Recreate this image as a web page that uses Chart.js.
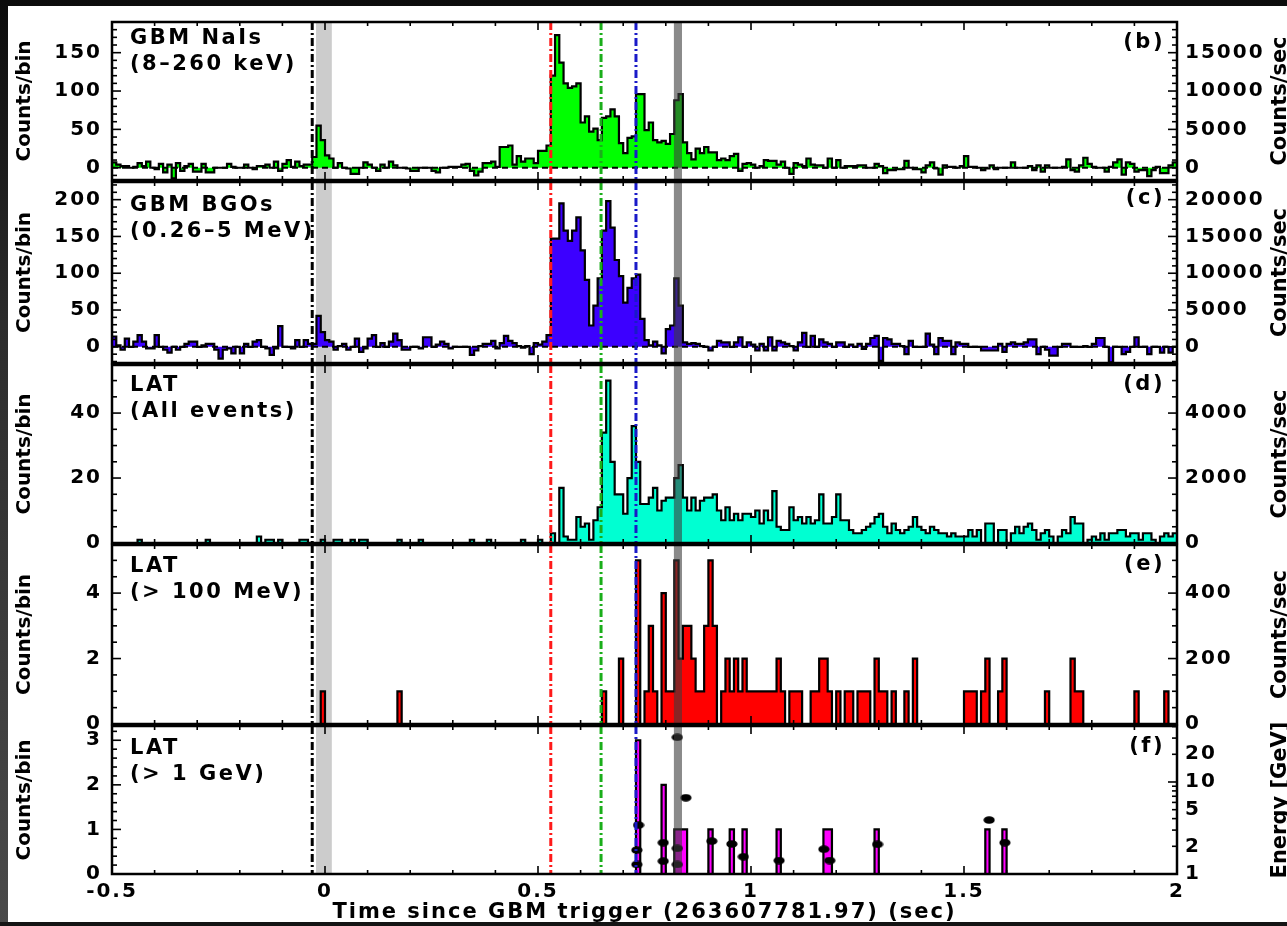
<!DOCTYPE html>
<html>
<head>
<meta charset="utf-8">
<script src="https://cdn.jsdelivr.net/npm/chart.js@4.4.1/dist/chart.umd.min.js"></script>
<style>
  html, body { margin: 0; padding: 0; }
  body {
    width: 1287px; height: 926px; position: relative; overflow: hidden;
    background: linear-gradient(#0c0c0c, #2c2c2c 35%, #4a4a4a);
  }
  #sheet { position: absolute; left: 8px; top: 6px; width: 1279px; height: 916px; background: #fff; }
  #foot { position: absolute; left: 0; top: 922px; width: 1287px; height: 4px; background: #141414; }
  canvas { position: absolute; left: 0; top: 0; }
</style>
</head>
<body>
<div id="sheet"></div>
<div id="foot"></div>
<canvas id="pb" width="1287" height="926"></canvas>
<canvas id="pc" width="1287" height="926"></canvas>
<canvas id="pd" width="1287" height="926"></canvas>
<canvas id="pe" width="1287" height="926"></canvas>
<canvas id="pf" width="1287" height="926"></canvas>
<script>
// 0.01 s bins starting at -0.5 s after the GBM trigger
const T_START = -0.5;
const BIN = 0.01;

// GBM NaI 8-260 keV, counts per bin (background subtracted)
const naiCounts = [
  7, 4, 2, 2, 0, 1, 6, 2, 8, 0,
  -2, 5, -6, 4, -14, 6, -4, 2, 5, -5,
  -5, 5, -6, -6, 0, 0, 0, 5, 1, 0,
  0, 4, 0, -2, 2, 2, 4, 0, 8, -4,
  5, 10, 1, 8, 2, 4, 4, 14, 55, 36,
  16, 12, 0, 6, 0, -1, -8, -8, 0, 7,
  4, 0, -4, 4, 0, 8, 3, 0, 0, -1,
  -4, -4, 0, 0, 0, -4, -6, 0, 0, 1,
  1, 1, 4, 5, -4, -10, -5, 6, 6, 8,
  1, 27, 27, 29, 4, 15, 8, 12, 12, 6,
  22, 22, 29, 120, 173, 137, 110, 104, 106, 110,
  59, 67, 47, 51, 36, 65, 67, 76, 67, 32,
  19, 39, 41, 96, 96, 49, 59, 36, 33, 35,
  31, 44, 88, 96, 33, 19, 11, 25, 19, 27,
  20, 20, 10, 12, 10, 15, 18, -4, 5, 6,
  4, 0, 2, 10, 9, 9, 4, 8, 0, -8,
  6, 4, 2, 12, 4, 3, 3, 0, 12, 0,
  10, 0, 2, 2, 2, 3, 3, 0, 0, 5,
  2, -7, -3, -3, -2, -2, 9, 0, -2, -2,
  -6, 3, 7, -1, -9, 3, 1, 1, 0, 2,
  15, 1, 1, 0, -3, -1, 3, -2, 0, 0,
  0, 7, 0, 0, 0, 2, -3, 3, -5, 3,
  0, 0, 0, 1, 11, -3, -5, 3, 13, 5,
  1, 0, 0, -5, 1, 7, 11, -9, 7, 5,
  -5, -3, -3, -11, -3, 1, -7, -7, 3, 7
];

// GBM BGO 0.26-5 MeV, counts per bin (background subtracted)
const bgoCounts = [
  14, 2, -4, 11, 0, 7, 16, 7, -2, -2,
  16, 0, -4, -8, 0, -4, 0, 4, 7, 7,
  0, 2, 4, 4, -4, -16, -4, -2, -9, 0,
  -9, 4, 0, 7, 9, 0, -2, -11, -2, 28,
  0, 0, -2, 9, 0, 9, 4, 4, 42, 20,
  9, 7, -4, 1, 4, -4, 0, 11, -7, -2,
  11, 16, 0, 5, 0, 7, 18, 9, -4, -4,
  0, 0, -2, 13, 13, 0, 3, 7, 4, -2,
  0, 0, 0, 0, -11, -5, 1, 4, 4, 8,
  -2, 5, 15, 8, 5, 1, -1, 1, -10, 5,
  3, 7, 16, 147, 147, 195, 158, 144, 158, 176,
  131, 91, 29, 56, 93, 158, 198, 162, 118, 96,
  60, 80, 93, 98, 38, 9, 2, 7, 2, -9,
  24, 29, 93, 56, 6, 4, 5, 4, 1, 0,
  -5, 0, 8, 6, 6, 0, 6, 13, 0, 6,
  3, -5, 4, -5, 13, -5, 8, 6, 4, 1,
  -5, 6, 19, 0, 15, 0, 10, 6, 4, 0,
  6, 6, 0, 3, 0, 4, -3, 4, 12, 15,
  -19, 12, 10, 4, 4, 1, -10, 8, 0, 0,
  0, 18, 3, -10, 12, 8, 8, -10, 6, 4,
  4, 0, 0, 0, -5, -5, -5, -5, 4, -7,
  4, 6, 4, 4, 6, 10, 10, -10, 0, -4,
  -12, -12, 0, 4, 4, 0, 0, 0, 1, 0,
  4, 12, 12, 0, -21, 0, 0, -10, -7, 0,
  13, 0, 0, -10, 0, 0, -8, 0, -8, 0
];

// LAT, all events
const latCounts = [
  0, 0, 0, 0, 0, 0, 1, 0, 0, 0,
  0, 0, 0, 0, 0, 0, 0, 0, 0, 0,
  0, 0, 1, 0, 0, 0, 0, 0, 0, 0,
  0, 0, 0, 0, 2, 0, 1, 1, 0, 1,
  0, 0, 0, 0, 1, 1, 0, 0, 0, 1,
  0, 0, 1, 1, 0, 0, 1, 0, 1, 1,
  0, 0, 0, 0, 0, 0, 0, 1, 0, 0,
  0, 0, 1, 0, 0, 0, 0, 0, 0, 0,
  0, 0, 0, 0, 1, 0, 0, 0, 1, 0,
  0, 0, 0, 0, 0, 0, 1, 0, 0, 0,
  1, 0, 0, 3, 0, 17, 2, 1, 1, 8,
  5, 6, 1, 7, 11, 34, 50, 25, 15, 15,
  9, 20, 36, 25, 12, 12, 14, 17, 10, 13,
  14, 14, 20, 24, 14, 10, 14, 10, 13, 14,
  14, 15, 10, 7, 11, 7, 9, 7, 9, 9,
  8, 10, 6, 10, 7, 16, 5, 4, 4, 11,
  7, 8, 6, 8, 6, 7, 15, 6, 6, 8,
  15, 7, 7, 4, 3, 3, 4, 5, 6, 8,
  9, 5, 3, 6, 4, 3, 4, 5, 8, 5,
  4, 3, 5, 4, 3, 3, 2, 3, 2, 2,
  2, 4, 2, 4, 0, 6, 6, 0, 4, 4,
  0, 3, 5, 3, 5, 6, 4, 1, 3, 4,
  2, 0, 2, 4, 3, 8, 6, 6, 0, 1,
  2, 1, 3, 1, 3, 3, 4, 4, 2, 3,
  3, 1, 3, 3, 1, 0, 2, 3, 2, 3
];

// LAT > 100 MeV: start time of each non-empty bin and its count
const lat100Times = [
  -0.01, 0.17, 0.65, 0.69, 0.73, 0.75, 0.76, 0.77, 0.79, 0.80,
  0.81, 0.82, 0.83, 0.84, 0.85, 0.86, 0.87, 0.88, 0.89, 0.90,
  0.91, 0.93, 0.94, 0.95, 0.96, 0.97, 0.98, 0.99, 1.00, 1.01,
  1.02, 1.03, 1.04, 1.05, 1.06, 1.07, 1.09, 1.10, 1.11, 1.14,
  1.15, 1.16, 1.17, 1.18, 1.20, 1.22, 1.23, 1.25, 1.26, 1.27,
  1.29, 1.30, 1.31, 1.33, 1.36, 1.38, 1.50, 1.51, 1.52, 1.54,
  1.55, 1.58, 1.59, 1.69, 1.75, 1.76, 1.77, 1.90, 1.97
];
const lat100Counts = [
  1, 1, 1, 2, 5, 1, 3, 1, 4, 1,
  1, 5, 2, 3, 3, 2, 1, 1, 3, 5,
  3, 1, 2, 1, 2, 1, 2, 1, 1, 1,
  1, 1, 1, 1, 2, 1, 1, 1, 1, 1,
  1, 2, 2, 1, 1, 1, 1, 1, 1, 1,
  2, 1, 1, 1, 1, 2, 1, 1, 1, 1,
  2, 1, 2, 1, 2, 1, 1, 1, 1
];

// LAT > 1 GeV
const lat1Times = [0.73, 0.79, 0.82, 0.83, 0.84, 0.90, 0.95, 0.98, 1.06, 1.17, 1.18, 1.29, 1.55, 1.59];
const lat1Counts = [3, 2, 1, 1, 1, 1, 1, 1, 1, 1, 1, 1, 1, 1];

// individual > 1 GeV photons: arrival time (s) and energy (GeV)
const photonTime = [0.732, 0.732, 0.736, 0.794, 0.794, 0.827, 0.827, 0.827, 0.847,
                    0.908, 0.955, 0.982, 1.066, 1.171, 1.185, 1.297, 1.559, 1.596];
const photonEnergy = [1.27, 1.82, 3.4, 1.38, 2.19, 1.27, 1.9, 30.6, 6.75,
                      2.28, 2.12, 1.54, 1.4, 1.86, 1.4, 2.1, 3.86, 2.19];

// reference times drawn across all panels
const markerTimes = [-0.03, 0.53, 0.648, 0.73];
const lightBand = [-0.021, 0.016];
const darkBand = [0.819, 0.838];

// axis ticks
const timeTicks = [-0.5, 0, 0.5, 1, 1.5, 2];
const naiTicks = [0, 50, 100, 150];
const naiRateTicks = [0, 5000, 10000, 15000];
const bgoTicks = [0, 50, 100, 150, 200];
const bgoRateTicks = [0, 5000, 10000, 15000, 20000];
const latTicks = [0, 20, 40];
const latRateTicks = [0, 2000, 4000];
const lat100Ticks = [0, 2, 4];
const lat100RateTicks = [0, 200, 400];
const lat1Ticks = [0, 1, 2, 3];
const energyTicks = [1, 2, 5, 10, 20];

const FONT = '"DejaVu Sans", sans-serif';
const markerColors = ['#000000', '#ff1a1a', '#1aae1a', '#1a1ac8'];

function stepPoints(counts) {
  const pts = counts.map((c, i) => ({ x: T_START + i * BIN, y: c }));
  pts.push({ x: T_START + counts.length * BIN, y: counts[counts.length - 1] });
  return pts;
}

function fromSparse(times, counts) {
  const out = new Array(naiCounts.length).fill(0);
  times.forEach((t, k) => { out[Math.round((t - T_START) / BIN)] = counts[k]; });
  return out;
}

function histogram(counts, color) {
  return {
    type: 'line', data: stepPoints(counts), stepped: true, yAxisID: 'y',
    borderColor: '#000', borderWidth: 2.2, backgroundColor: color,
    fill: 'origin', pointRadius: 0, tension: 0
  };
}

// black elliptical marker used for single photons
const dot = document.createElement('canvas');
dot.width = 12; dot.height = 8;
(function () {
  const g = dot.getContext('2d');
  g.fillStyle = '#000';
  g.beginPath(); g.ellipse(6, 4, 5.6, 3.8, 0, 0, Math.PI * 2); g.fill();
})();

const panels = [
  { id: 'pb', top: 9, bottom: 180, yMin: -16, yMax: 190, ticks: naiTicks, rateTicks: naiRateTicks,
    minor: 10, zeroLine: true, name: ['GBM NaIs', '(8\u2013260 keV)'], tag: '(b)', nameDy: 17, tagDy: 21,
    rightTitle: 'Counts/sec', datasets: [histogram(naiCounts, '#00ff00')] },
  { id: 'pc', top: 182, bottom: 363, yMin: -22, yMax: 224, ticks: bgoTicks, rateTicks: bgoRateTicks,
    minor: 10, zeroLine: true, name: ['GBM BGOs', '(0.26\u20135 MeV)'], tag: '(c)', nameDy: 24, tagDy: 17,
    rightTitle: 'Counts/sec', datasets: [histogram(bgoCounts, '#3c00ff')] },
  { id: 'pd', top: 365, bottom: 543, yMin: 0, yMax: 54.8, ticks: latTicks, rateTicks: latRateTicks,
    minor: 5, zeroLine: false, name: ['LAT', '(All events)'], tag: '(d)', nameDy: 21, tagDy: 20,
    rightTitle: 'Counts/sec', datasets: [histogram(latCounts, '#00ffd2')] },
  { id: 'pe', top: 545, bottom: 724, yMin: 0, yMax: 5.47, ticks: lat100Ticks, rateTicks: lat100RateTicks,
    minor: 0.5, zeroLine: false, name: ['LAT', '(> 100 MeV)'], tag: '(e)', nameDy: 22, tagDy: 20,
    rightTitle: 'Counts/sec', datasets: [histogram(fromSparse(lat100Times, lat100Counts), '#ff0000')] },
  { id: 'pf', top: 726, bottom: 874, yMin: 0, yMax: 3.32, ticks: lat1Ticks, rateTicks: energyTicks,
    minor: 0.2, zeroLine: false, name: ['LAT', '(> 1 GeV)'], tag: '(f)', nameDy: 23, tagDy: 21,
    rightTitle: 'Energy [GeV]', logRight: true, last: true,
    datasets: [
      { type: 'scatter', yAxisID: 'y2', showLine: false, pointStyle: dot, pointRadius: 5,
        data: photonTime.map((t, i) => ({ x: t, y: photonEnergy[i] })) },
      histogram(fromSparse(lat1Times, lat1Counts), '#ff00ff')
    ] }
];

function line(ctx, x0, y0, x1, y1) {
  ctx.beginPath(); ctx.moveTo(x0, y0); ctx.lineTo(x1, y1); ctx.stroke();
}

const panelDecor = {
  id: 'panelDecor',
  beforeLayout(chart) { chart.ctx.letterSpacing = '2px'; },
  beforeDraw(chart) { chart.ctx.letterSpacing = '2px'; },
  beforeDatasetsDraw(chart) {
    const { ctx, chartArea: a, scales: { x } } = chart;
    const x0 = x.getPixelForValue(lightBand[0]), x1 = x.getPixelForValue(lightBand[1]);
    ctx.save();
    ctx.fillStyle = '#cccccc';
    ctx.fillRect(x0, a.top, x1 - x0, a.height);
    ctx.restore();
  },
  afterDatasetsDraw(chart, args, p) {
    const { ctx, chartArea: a, scales: { x, y, y2 } } = chart;
    ctx.save();
    ctx.strokeStyle = '#000';

    if (p.zeroLine) {
      const y0 = y.getPixelForValue(0);
      ctx.setLineDash([6, 4]); ctx.lineWidth = 2;
      line(ctx, a.left, y0, a.right, y0);
    }

    // bin of the highest-energy photon, shaded over the data
    const d0 = x.getPixelForValue(darkBand[0]), d1 = x.getPixelForValue(darkBand[1]);
    ctx.setLineDash([]);
    ctx.fillStyle = 'rgba(60,60,60,0.6)';
    ctx.fillRect(d0, a.top, d1 - d0, a.height);

    ctx.lineWidth = 3;
    ctx.setLineDash([8, 3, 2, 3]);
    markerTimes.forEach((t, i) => {
      const px = x.getPixelForValue(t);
      ctx.strokeStyle = markerColors[i];
      line(ctx, px, a.top, px, a.bottom);
    });
    ctx.setLineDash([]);
    ctx.strokeStyle = '#000';
    ctx.lineWidth = 1.6;

    // inward tick marks, time axis
    for (let k = 0; k <= 25; k++) {
      const px = x.getPixelForValue(-0.5 + k * 0.1);
      const len = k % 5 === 0 ? 8 : 4;
      line(ctx, px, a.top, px, a.top + len);
      line(ctx, px, a.bottom, px, a.bottom - len);
    }
    // inward tick marks, count axes
    const kMin = Math.ceil(p.yMin / p.minor - 1e-9), kMax = Math.floor(p.yMax / p.minor + 1e-9);
    for (let k = kMin; k <= kMax; k++) {
      const v = k * p.minor;
      const py = y.getPixelForValue(v);
      const major = p.ticks.some(t => Math.abs(t - v) < 1e-6);
      const len = major ? 9 : 5;
      line(ctx, a.left, py, a.left + len, py);
      if (!p.logRight) line(ctx, a.right, py, a.right - len, py);
    }
    if (p.logRight) {
      for (let dec = 1; dec <= 10; dec *= 10) {
        for (let m = 1; m <= 9; m++) {
          const v = m * dec;
          if (v > y2.max) break;
          const py = y2.getPixelForValue(v);
          const len = m === 1 ? 9 : 5;
          line(ctx, a.right, py, a.right - len, py);
        }
      }
    }

    ctx.lineWidth = 2.5;
    ctx.strokeRect(a.left, a.top, a.width, a.height);

    // panel captions
    ctx.fillStyle = '#000';
    ctx.font = 'bold 21px ' + FONT;
    ctx.letterSpacing = '2.5px';
    ctx.textBaseline = 'middle';
    ctx.textAlign = 'left';
    ctx.fillText(p.name[0], a.left + 18, a.top + p.nameDy);
    ctx.fillText(p.name[1], a.left + 18, a.top + p.nameDy + 26);
    ctx.textAlign = 'right';
    ctx.fillText(p.tag, a.right - 12, a.top + p.tagDy);

    // axis titles, reading bottom to top
    ctx.font = 'bold 20px ' + FONT;
    ctx.letterSpacing = '0px';
    const mid = (a.top + a.bottom) / 2;
    ctx.textAlign = 'center';
    ctx.textBaseline = 'top';
    ctx.save();
    ctx.translate(15, mid); ctx.rotate(-Math.PI / 2);
    ctx.fillText('Counts/bin', 0, 0);
    ctx.restore();
    ctx.save();
    ctx.font = 'bold 21px ' + FONT;
    ctx.translate(1270, mid); ctx.rotate(-Math.PI / 2);
    ctx.fillText(p.rightTitle, 0, 0);
    ctx.restore();

    if (p.last) {
      ctx.font = 'bold 21px ' + FONT;
      ctx.letterSpacing = '2px';
      ctx.textBaseline = 'middle';
      ctx.fillText('Time since GBM trigger (263607781.97) (sec)', (a.left + a.right) / 2, 913);
    }
    ctx.restore();
  }
};

const tickFont = { family: FONT, weight: 'bold', size: 20 };

panels.forEach(p => {
  const rightScale = p.logRight
    ? { type: 'logarithmic', min: 1, max: 40.6 }
    : { type: 'linear', min: p.yMin * 100, max: p.yMax * 100 };
  const rateTicks = p.rateTicks;

  new Chart(document.getElementById(p.id), {
    type: 'line',
    data: { datasets: p.datasets },
    options: {
      responsive: false,
      animation: false,
      events: [],
      layout: { padding: { top: p.top, bottom: p.last ? 0 : 926 - p.bottom, left: 0, right: 0 } },
      plugins: { legend: { display: false }, tooltip: { enabled: false }, panelDecor: p },
      scales: {
        x: {
          type: 'linear', min: -0.5, max: 2, display: !!p.last,
          afterBuildTicks: s => { s.ticks = timeTicks.map(v => ({ value: v })); },
          afterFit: s => { s.height = p.last ? 926 - 874 : 0; },
          grid: { display: false, drawTicks: false, tickLength: 0 },
          border: { display: false },
          ticks: { font: tickFont, color: '#000', padding: 6, maxRotation: 0, autoSkip: false,
                   callback: v => String(v) }
        },
        y: {
          type: 'linear', position: 'left', min: p.yMin, max: p.yMax,
          afterBuildTicks: s => { s.ticks = p.ticks.map(v => ({ value: v })); },
          afterFit: s => { s.width = 112; },
          grid: { display: false, drawTicks: false, tickLength: 0 },
          border: { display: false },
          ticks: { font: tickFont, color: '#000', padding: 10, autoSkip: false, callback: v => String(v) }
        },
        y2: Object.assign(rightScale, {
          position: 'right',
          afterBuildTicks: s => { s.ticks = rateTicks.map(v => ({ value: v })); },
          afterFit: s => { s.width = 1287 - 1177; },
          grid: { display: false, drawTicks: false, tickLength: 0 },
          border: { display: false },
          ticks: { font: tickFont, color: '#000', padding: 8, autoSkip: false, callback: v => String(v) }
        })
      }
    },
    plugins: [panelDecor]
  });
});
</script>
</body>
</html>
